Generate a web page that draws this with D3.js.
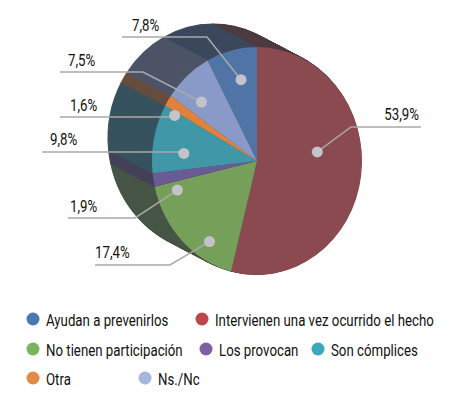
<!DOCTYPE html>
<html>
<head>
<meta charset="utf-8">
<script src="https://cdn.jsdelivr.net/npm/d3@7"></script>
<style>
  body { margin: 0; background: #fff; }
  svg { display: block; }
  text { font-family: Roboto, "Noto Sans", sans-serif; fill: #111; }
</style>
</head>
<body>
<svg id="chart" width="450" height="398"></svg>
<script>
const categories = ['Ayudan a prevenirlos', 'Intervienen una vez ocurrido el hecho', 'No tienen participación', 'Los provocan', 'Son cómplices', 'Otra', 'Ns./Nc'];
const values = [7.8, 53.9, 17.4, 1.9, 9.8, 1.6, 7.5];
const labels = ['7,8%', '53,9%', '17,4%', '1,9%', '9,8%', '1,6%', '7,5%'];
const faceColors = ['#5074a6', '#8a4a4f', '#76a05a', '#6a5a96', '#4097a8', '#e0823e', '#8a9ac8'];
const legendColors = ['#4a78b0', '#c0464d', '#79b45a', '#7e5fa3', '#3ba7bd', '#e28a48', '#a6b6df'];

const cx = 257, cy = 161, R = 105, sy = 1.085;
const depth = { dx: -44, dy: -23, steps: 48 };
const fontSize = 17, squeeze = 0.78; // condensed look

// leader line layout per slice (same order as data)
const labelLayout = [
  { lineY: 37, x0: 122, elbowX: 207, textX: 132, textY: 31, anchor: 'start', frac: 0.73, shift: 2 },
  { lineY: 127, x0: 421, elbowX: 351, textX: 419, textY: 120, anchor: 'end', frac: 0.58, shift: -15 },
  { lineY: 265, x0: 95, elbowX: 170, textX: 95, textY: 258, anchor: 'start', frac: 0.84, shift: -13 },
  { lineY: 218, x0: 68, elbowX: 135, textX: 70, textY: 212, anchor: 'start', frac: 0.8, shift: -9 },
  { lineY: 152, x0: 42, elbowX: null, textX: 50, textY: 145, anchor: 'start', frac: 0.7, shift: -6 },
  { lineY: 117, x0: 60, elbowX: null, textX: 70, textY: 111, anchor: 'start', frac: 0.88, shift: -5 },
  { lineY: 72, x0: 60, elbowX: 143, textX: 68, textY: 66, anchor: 'start', frac: 0.74, shift: -4 },
];

const legendLayout = [[33, 0], [202, 0], [33, 1], [206, 1], [318, 1], [33, 2], [145, 2]];
const legendRows = [319, 349, 378];

const svg = d3.select('#chart');

const addText = (x, y, str, anchor = 'start') => svg.append('text')
  .attr('transform', `translate(${x},${y}) scale(${squeeze},1)`)
  .attr('text-anchor', anchor)
  .attr('font-size', fontSize)
  .text(str);

const start = -values[0] / 100 * 2 * Math.PI;
const pie = d3.pie().sort(null).value(d => d)
  .startAngle(start).endAngle(start + 2 * Math.PI);
const arcs = pie(values);
const arc = d3.arc().innerRadius(0).outerRadius(R);

const sideColor = i => d3.interpolateRgb(faceColors[i], '#33363e')(0.7);

// extruded side: stack copies from back to front
for (let s = depth.steps; s >= 1; s--) {
  const t = s / depth.steps;
  const g = svg.append('g')
    .attr('transform', `translate(${cx + depth.dx * t},${cy + depth.dy * t}) scale(1,${sy})`);
  g.selectAll('path')
    .data(arcs)
    .join('path')
    .attr('d', arc)
    .attr('fill', (d, i) => sideColor(i))
    .attr('stroke', (d, i) => sideColor(i))
    .attr('stroke-width', 1);
}

// front face
svg.append('g')
  .attr('transform', `translate(${cx},${cy}) scale(1,${sy})`)
  .selectAll('path')
  .data(arcs)
  .join('path')
  .attr('d', arc)
  .attr('fill', (d, i) => faceColors[i]);

// leader lines, dots and labels
const dots = arcs.map((d, i) => {
  const L = labelLayout[i];
  const a = (d.startAngle + d.endAngle) / 2 + L.shift * Math.PI / 180;
  const r = L.frac * R;
  return [cx + r * Math.sin(a), cy - r * Math.cos(a) * sy];
});

const lines = svg.append('g');
arcs.forEach((d, i) => {
  const L = labelLayout[i];
  const [px, py] = dots[i];
  const ex = L.elbowX === null ? px - 6 : L.elbowX;
  lines.append('path')
    .attr('d', d3.line()([[L.x0, L.lineY], [ex, L.lineY], [px, py]]))
    .attr('fill', 'none')
    .attr('stroke', '#a9a9ab')
    .attr('stroke-width', 1.5);
  lines.append('circle')
    .attr('cx', px).attr('cy', py).attr('r', 5.5)
    .attr('fill', '#c3c3c9');
  addText(L.textX, L.textY, labels[i], L.anchor);
});

// legend
categories.forEach((c, i) => {
  const [x, row] = legendLayout[i];
  const y = legendRows[row];
  svg.append('circle')
    .attr('cx', x).attr('cy', y).attr('r', 6.5)
    .attr('fill', legendColors[i]);
  addText(x + 13, y + 6.5, c);
});
</script>
</body>
</html>
